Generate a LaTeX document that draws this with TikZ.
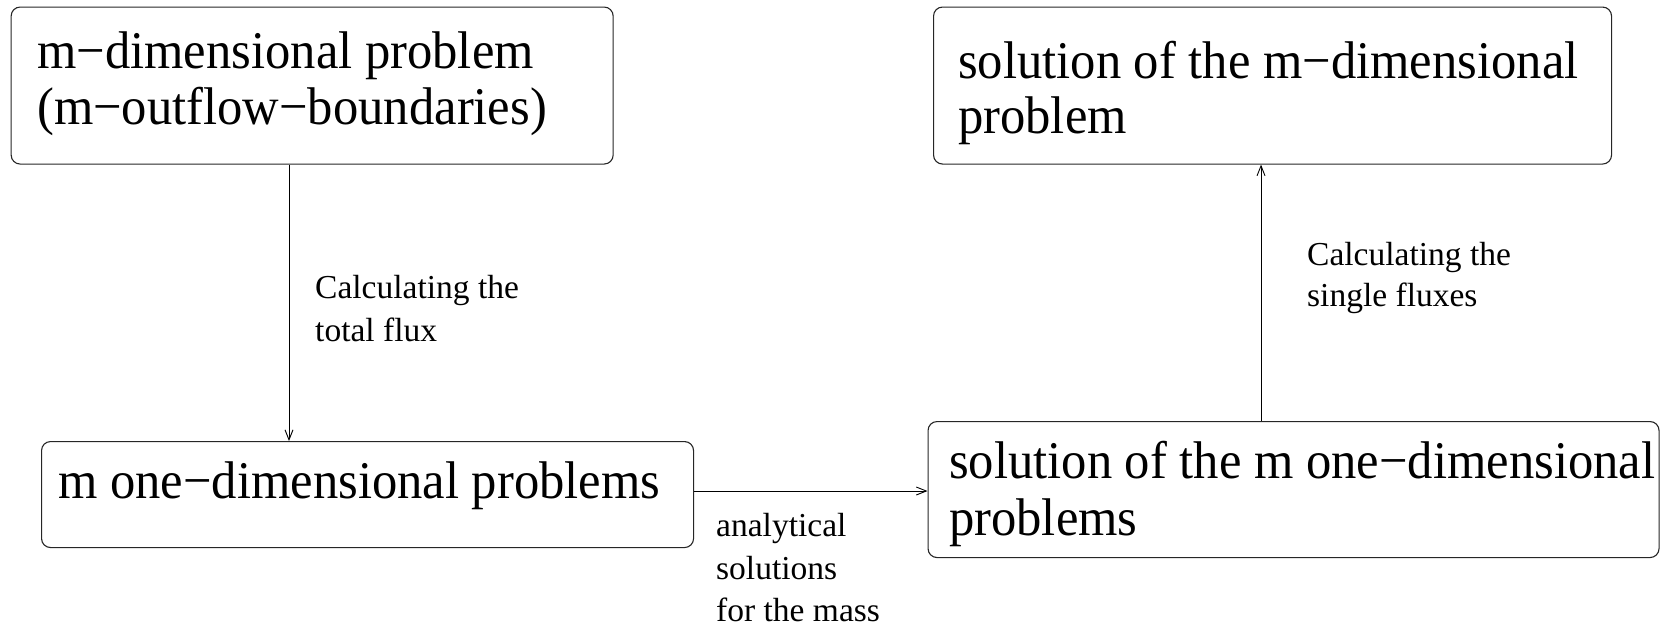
\documentclass[tikz,border=0pt]{standalone}
\usepackage{fontspec}
\setmainfont{Liberation Serif}
\newfontfamily\boxfont[FakeStretch=0.955]{Liberation Serif}
\usetikzlibrary{arrows.meta}
\begin{document}
\begin{tikzpicture}[x=1pt,y=-1pt,
  box/.style={draw=black!85, line width=1.1pt, rounded corners=9pt, anchor=north west, inner sep=0pt},
  bigtxt/.style={anchor=base west, inner sep=0pt, font=\boxfont\fontsize{53}{56}\selectfont},
  smalltxt/.style={anchor=base west, inner sep=0pt, font=\fontsize{33.5}{42}\selectfont},
  flow/.style={line width=0.9pt, -{Straight Barb[length=10pt,width=8pt]}}]
\useasboundingbox (0,0) rectangle (1660,625);

% boxes
\node[box, minimum width=602pt, minimum height=157pt] (A) at (10.6,6.5) {};
\node[box, minimum width=678pt, minimum height=157pt] (B) at (933,6.5) {};
\node[box, minimum width=652pt, minimum height=106pt] (C) at (41,441) {};
\node[box, minimum width=731pt, minimum height=136pt] (D) at (927.5,421) {};

% box texts
\node[bigtxt] (a1) at (37,68) {m−dimensional problem};
\node[bigtxt] (a2) at (37,124) {(m−outflow−boundaries)};
\node[bigtxt] (b1) at (958,78) {solution of the m−dimensional};
\node[bigtxt] (b2) at (958,133) {problem};
\node[bigtxt] (c1) at (58,498) {m one−dimensional problems};
\node[bigtxt] (d1) at (949,478) {solution of the m one−dimensional};
\node[bigtxt] (d2) at (949,535) {problems};

% connectors
\coordinate (aout) at (289,0);
\draw[flow] (A.south -| aout) -- (C.north -| aout);
\coordinate (dout) at (1261,0);
\draw[flow] (D.north -| dout) -- (B.south -| dout);
\coordinate (cout) at (0,491);
\draw[flow] (C.east |- cout) -- (D.west |- cout);

% connector labels
\node[smalltxt] (l1) at (315,298) {Calculating the};
\node[smalltxt] (l2) at (315,341) {total flux};
\node[smalltxt] (r1) at (1307,265) {Calculating the};
\node[smalltxt] (r2) at (1307,306) {single fluxes};
\node[smalltxt] (m1) at (716,536) {analytical};
\node[smalltxt] (m2) at (716,579) {solutions};
\node[smalltxt] (m3) at (716,621) {for the mass};
\end{tikzpicture}
\end{document}
